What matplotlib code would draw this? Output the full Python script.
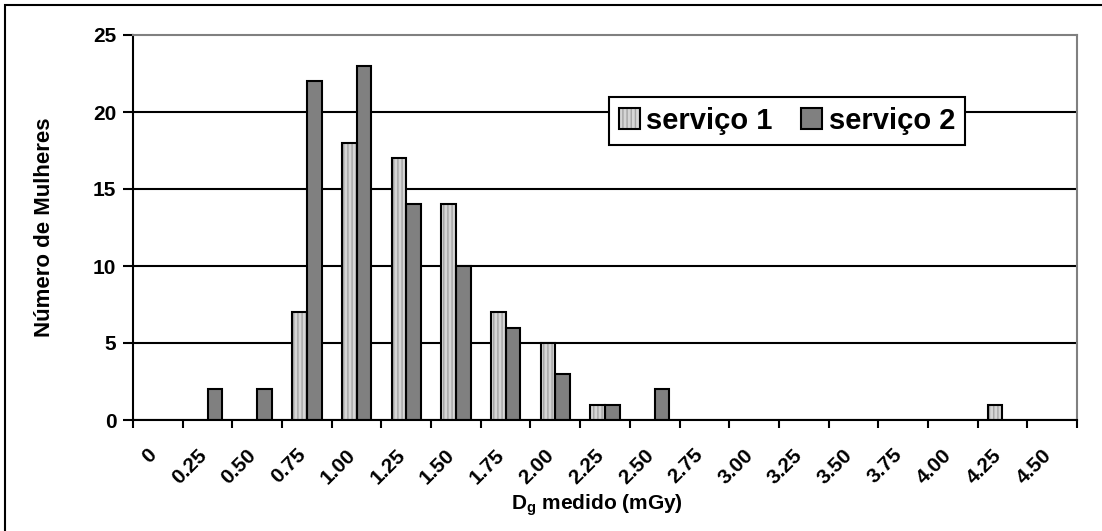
import matplotlib
matplotlib.use("Agg")
import numpy as np
import matplotlib.pyplot as plt
from matplotlib.patches import Patch, Rectangle
from matplotlib.transforms import ScaledTranslation

categories = ["0", "0.25", "0.50", "0.75", "1.00", "1.25", "1.50", "1.75",
              "2.00", "2.25", "2.50", "2.75", "3.00", "3.25", "3.50", "3.75",
              "4.00", "4.25", "4.50"]
servico1 = [0, 0, 0, 7, 18, 17, 14, 7, 5, 1, 0, 0, 0, 0, 0, 0, 0, 1, 0]
servico2 = [0, 2, 2, 22, 23, 14, 10, 6, 3, 1, 2, 0, 0, 0, 0, 0, 0, 0, 0]
y_ticks = [0, 5, 10, 15, 20, 25]

plt.rcParams["font.family"] = ["Liberation Sans", "DejaVu Sans"]
plt.rcParams["font.weight"] = "bold"
plt.rcParams["mathtext.fontset"] = "custom"
plt.rcParams["mathtext.rm"] = "Liberation Sans:bold"
plt.rcParams["mathtext.bf"] = "Liberation Sans:bold"
plt.rcParams["hatch.linewidth"] = 1.0

W, H = 1102, 531
FS = 15
fig = plt.figure(figsize=(W / 100, H / 100), dpi=100)
ax = fig.add_axes([133 / W, 1 - 420 / H, (1077 - 133) / W, (420 - 35) / H])

x = np.arange(len(categories))
w = 0.296
s1 = np.array(servico1, dtype=float)
s2 = np.array(servico2, dtype=float)
m1 = s1 > 0
m2 = s2 > 0

# fill + stripes, then black outline on top
ax.bar(x[m1] - w / 2, s1[m1], w, color="#d6d6d6", edgecolor="#a4a4a4",
       hatch="||||", linewidth=0, zorder=2)
ax.bar(x[m1] - w / 2, s1[m1], w, fill=False, edgecolor="black",
       linewidth=1.5, zorder=3)
ax.bar(x[m2] + w / 2, s2[m2], w, color="#808080", edgecolor="#7a7a7a",
       linewidth=0, zorder=2)
ax.bar(x[m2] + w / 2, s2[m2], w, fill=False, edgecolor="black",
       linewidth=1.5, zorder=3)

ax.set_xlim(-0.5, len(categories) - 0.5)
ax.set_ylim(0, 25)
ax.set_yticks(y_ticks)
ax.set_xticks(x)
ax.set_xticklabels(categories, rotation=45, ha="right", va="center",
                   rotation_mode="anchor")
ax.set_xticks(np.arange(len(categories) + 1) - 0.5, minor=True)
ax.tick_params(axis="x", which="major", length=0, pad=23, labelsize=FS)
ax.tick_params(axis="x", which="minor", length=6, width=1.5, color="black")
ax.tick_params(axis="y", length=7, width=1.5, pad=5, labelsize=FS)
for lab in ax.get_xticklabels():
    lab.set_transform(lab.get_transform() +
                      ScaledTranslation(-4 / 100, 0, fig.dpi_scale_trans))

ax.yaxis.grid(True, color="black", linewidth=1.5, zorder=1)
ax.set_axisbelow(True)
ax.get_ygridlines()[-1].set_visible(False)

for side in ("left", "bottom"):
    ax.spines[side].set_color("black")
    ax.spines[side].set_linewidth(1.5)
for side in ("top", "right"):
    ax.spines[side].set_color("#808080")
    ax.spines[side].set_linewidth(1.5)

ax.set_ylabel("Número de Mulheres", fontsize=16, fontweight="bold")
ax.yaxis.label.set_va("center")
ax.yaxis.set_label_coords((45 - 133) / (1077 - 133), 0.5)
ax.set_xlabel(r"D$_\mathbf{g}$ medido (mGy)", fontsize=FS, fontweight="bold")
ax.xaxis.label.set_va("center")
ax.xaxis.set_label_coords((597 - 133) / (1077 - 133), (420 - 505) / (420 - 35))

h1 = (Patch(facecolor="#d6d6d6", edgecolor="#a4a4a4", hatch="||||", linewidth=0),
      Patch(fill=False, edgecolor="black", linewidth=1.5))
h2 = (Patch(facecolor="#808080", linewidth=0),
      Patch(fill=False, edgecolor="black", linewidth=1.5))
leg = ax.legend([h1, h2], ["serviço 1", "serviço 2"], ncol=2,
                loc="center", bbox_to_anchor=((787 - 133) / 944, (420 - 121) / 385),
                prop={"size": 21, "weight": "bold"}, frameon=True,
                fancybox=False, framealpha=1, edgecolor="black",
                handlelength=0.72, handleheight=0.72, handletextpad=0.22,
                columnspacing=0.97, borderpad=0.35)
leg.get_frame().set_linewidth(1.5)

fig.patches.append(Rectangle((5 / W, -0.1), 2, 1 - 5 / H + 0.1, fill=False,
                             edgecolor="black", linewidth=1.5,
                             transform=fig.transFigure, figure=fig))

fig.savefig("out.png", dpi=100)
